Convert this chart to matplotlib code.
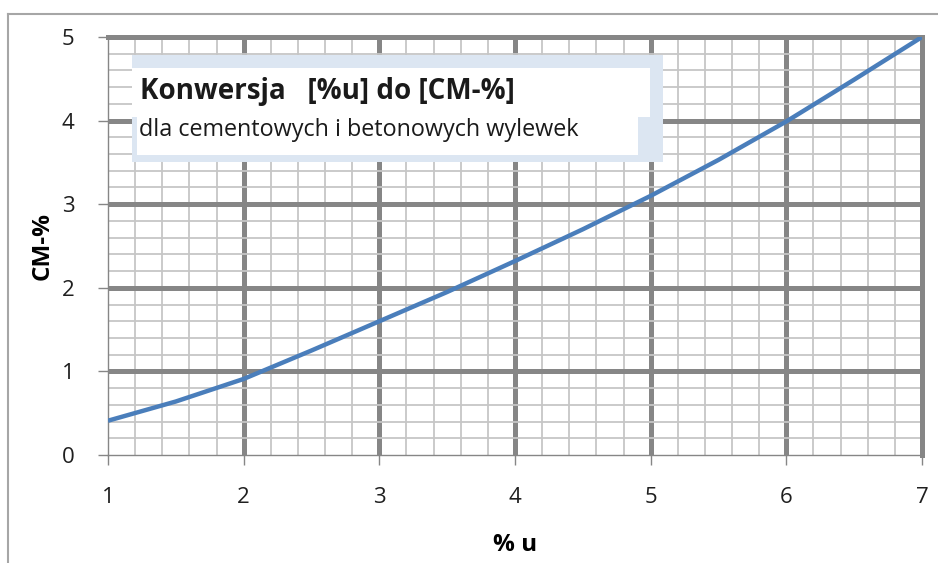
import matplotlib.pyplot as plt
from matplotlib.patches import Rectangle
from matplotlib.lines import Line2D
import numpy as np

# values
u_percent = [1, 1.5, 2, 2.5, 3, 3.5, 4, 4.5, 5, 5.5, 6, 6.5, 7]
cm_percent = [0.41, 0.64, 0.91, 1.25, 1.60, 1.95, 2.32, 2.70, 3.10, 3.53, 3.99, 4.49, 5.0]
x_ticks = [1, 2, 3, 4, 5, 6, 7]
y_ticks = [0, 1, 2, 3, 4, 5]

title = "Konwersja   [%u] do [CM-%]"
subtitle = "dla cementowych i betonowych wylewek"

plt.rcParams['font.family'] = ['Open Sans', 'DejaVu Sans']

W, H = 938, 563
fig = plt.figure(figsize=(W / 100, H / 100), dpi=100)
ax = fig.add_axes([108 / W, (H - 455) / H, 814 / W, 418 / H])

major = '#868686'
minor = '#c6c6c6'

ax.plot(u_percent, cm_percent, color='#4a7ebb', lw=3.2, solid_capstyle='butt',
        solid_joinstyle='round', zorder=5)

ax.set_xlim(1, 7)
ax.set_ylim(0, 5)
ax.set_xticks(x_ticks)
ax.set_yticks(y_ticks)
ax.set_xticks(np.arange(1, 7.01, 0.2), minor=True)
ax.set_yticks(np.arange(0, 5.01, 0.2), minor=True)
ax.set_axisbelow(True)
ax.grid(which='minor', color=minor, lw=1.3)
ax.grid(which='major', color=major, lw=3.6)
# first major lines sit on the thin axis lines
ax.xaxis.get_gridlines()[0].set_visible(False)
ax.yaxis.get_gridlines()[0].set_visible(False)

ax.tick_params(which='minor', length=0)
ax.tick_params(which='major', length=7, width=1, color=major, labelsize=16,
               labelcolor='#1f1f1f')
ax.tick_params(axis='x', pad=16)
ax.tick_params(axis='y', pad=17)

for s in ['left', 'bottom']:
    ax.spines[s].set_color(major)
    ax.spines[s].set_linewidth(1)
for s in ['top', 'right']:
    ax.spines[s].set_color(major)
    ax.spines[s].set_linewidth(3.6)

ax.set_xlabel("% u", fontsize=17.5, fontweight='bold', labelpad=18)
ax.set_ylabel("CM-%", fontsize=17.5, fontweight='bold', labelpad=5)

# text box (light blue frame with stepped inner white area)
def box(x0, y0, x1, y1, color, z):
    fig.add_artist(Rectangle((x0 / W, 1 - y1 / H), (x1 - x0) / W, (y1 - y0) / H,
                             transform=fig.transFigure, facecolor=color,
                             edgecolor='none', zorder=z))

box(132, 55, 663, 162, '#dce6f2', 3)
box(132, 68, 650, 117, 'white', 4)
box(137, 112, 638, 155, 'white', 4)
fig.text(140 / W, 1 - 91 / H, title, fontsize=20, fontweight='bold',
         color='#1a1a1a', ha='left', va='center', zorder=6)
fig.text(139 / W, 1 - 130 / H, subtitle, fontsize=16.8, color='#1a1a1a',
         ha='left', va='center', zorder=6)

# outer chart-area border
fig.add_artist(Line2D([8 / W, 8 / W], [0, 1 - 14 / H], transform=fig.transFigure,
                      color='#a6a6a6', lw=1.5))
fig.add_artist(Line2D([8 / W, 1], [1 - 14 / H, 1 - 14 / H], transform=fig.transFigure,
                      color='#a6a6a6', lw=1.5))

fig.savefig('out.png', dpi=100)
